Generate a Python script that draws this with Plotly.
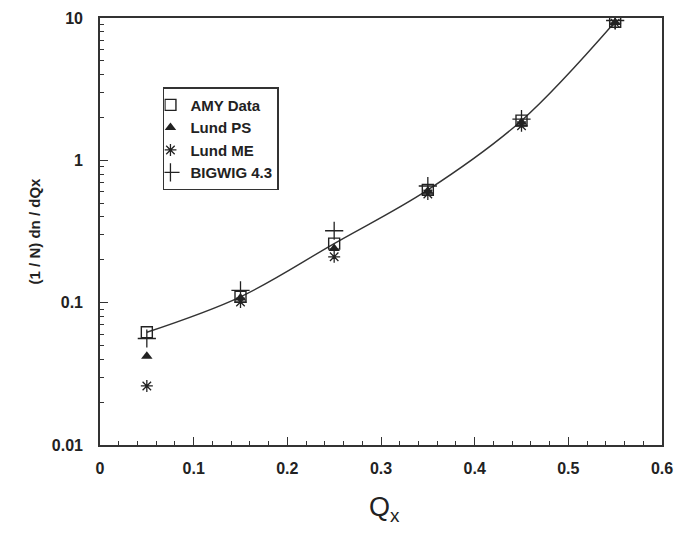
import plotly.graph_objects as go

qx = [0.05, 0.15, 0.25, 0.35, 0.45, 0.55]
amy_data = [0.062, 0.11, 0.26, 0.62, 1.9, 9.4]
lund_ps = [0.042, 0.108, 0.24, 0.61, 1.85, 9.3]
lund_me = [0.026, 0.101, 0.21, 0.58, 1.75, 9.2]
bigwig = [0.056, 0.122, 0.32, 0.66, 1.95, 9.6]

x_ticks = [0, 0.1, 0.2, 0.3, 0.4, 0.5, 0.6]
x_ticktext = ["0", "0.1", "0.2", "0.3", "0.4", "0.5", "0.6"]
y_ticks = [0.01, 0.1, 1, 10]
y_ticktext = ["0.01", "0.1", "1", "10"]

FONT = "Liberation Sans, Arial, sans-serif"
INK = "#222"

fig = go.Figure()
fig.add_trace(go.Scatter(x=qx, y=amy_data, mode="lines", line=dict(color="#333", width=1.4, shape="spline", smoothing=1.0),
                         showlegend=False, hoverinfo="skip"))
fig.add_trace(go.Scatter(x=qx, y=bigwig, mode="markers", name="BIGWIG 4.3",
                         marker=dict(symbol="cross-thin-open", size=13, color=INK, line=dict(color=INK, width=1.3))))
fig.add_trace(go.Scatter(x=qx, y=lund_me, mode="markers", name="Lund ME",
                         marker=dict(symbol="asterisk-open", size=10, color=INK, line=dict(color=INK, width=1.3))))
fig.add_trace(go.Scatter(x=qx, y=lund_ps, mode="markers", name="Lund PS",
                         marker=dict(symbol="triangle-up", size=10, color=INK)))
fig.add_trace(go.Scatter(x=qx, y=amy_data, mode="markers", name="AMY Data",
                         marker=dict(symbol="square-open", size=11, color=INK, line=dict(color=INK, width=1.4))))

fig.update_layout(
    width=682, height=536,
    margin=dict(l=92, r=28, t=10, b=99),
    paper_bgcolor="white", plot_bgcolor="white",
    font=dict(family=FONT, color=INK),
    showlegend=True,
    legend=dict(x=0.112, y=0.838, xanchor="left", yanchor="top", traceorder="reversed",
                bordercolor="#333", borderwidth=1.5, bgcolor="white", indentation=-14,
                font=dict(size=15, weight="bold", family=FONT), itemwidth=30, tracegroupgap=4),
    xaxis=dict(range=[0, 0.6], tickvals=x_ticks, ticktext=x_ticktext, ticks="inside", ticklen=8,
               tickcolor="#333", showline=True, linecolor="#333", linewidth=1.6, mirror=True,
               showgrid=False, zeroline=False, ticklabelstandoff=8, automargin=False,
               tickfont=dict(size=16, weight="bold", family=FONT),
               minor=dict(dtick=0.02, ticks="inside", ticklen=4, tickcolor="#333", showgrid=False)),
    yaxis=dict(type="log", range=[-2, 1], tickvals=y_ticks, ticktext=y_ticktext, ticks="inside", ticklen=8,
               tickcolor="#333", showline=True, linecolor="#333", linewidth=1.6, mirror=True,
               showgrid=False, zeroline=False, ticklabelstandoff=12, automargin=False,
               tickfont=dict(size=16, weight="bold", family=FONT),
               minor=dict(dtick="D1", ticks="inside", ticklen=4, tickcolor="#333", showgrid=False),
               title=dict(text="(1 / N) dn / dQx", font=dict(size=15, weight="bold", family=FONT), standoff=8)),
    annotations=[dict(text="Q<sub>x</sub>", xref="paper", yref="paper", x=0.507, y=-0.105,
                      xanchor="center", yanchor="top", showarrow=False,
                      font=dict(size=27, family=FONT, color=INK))],
)

fig.write_html("out.html")
